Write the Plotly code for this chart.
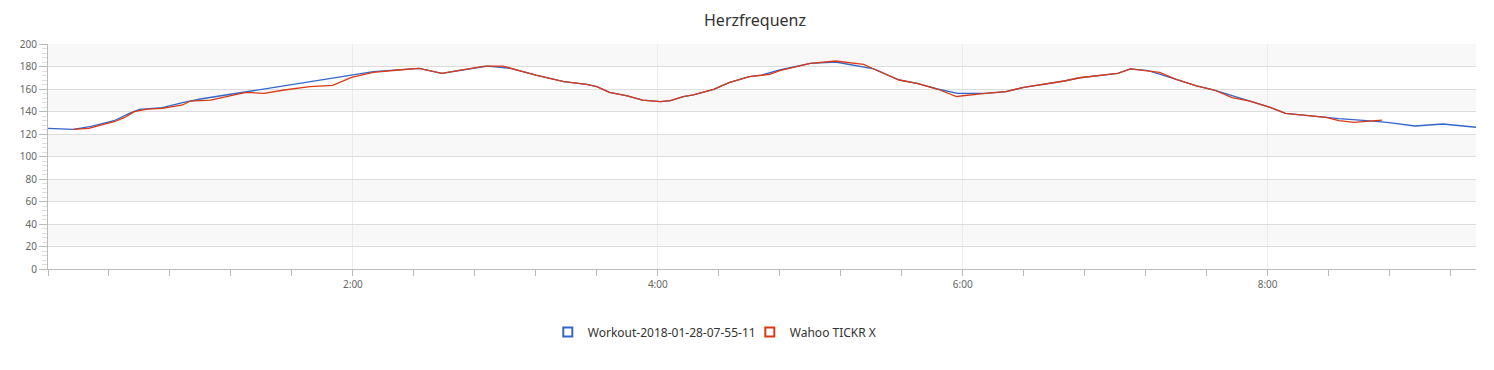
import plotly.graph_objects as go

# ---- data (seconds since start, heart rate bpm) ----
workout_t = [0, 10, 17, 26, 32, 36, 45, 53, 60, 78, 100, 120, 128, 146, 155, 163, 173, 182, 192, 203,
             212, 216, 221, 228, 234, 241, 245, 250, 254, 262, 268, 276, 281, 288, 300, 310, 321, 325,
             335, 342, 350, 358, 369, 377, 384, 392, 400, 406, 414, 421, 426, 433, 444, 452, 459, 466,
             473, 481, 487, 497, 503, 508, 519, 527, 538, 549, 562]
workout_hr = [125, 124.1, 126.8, 131.8, 138.4, 141.9, 143.4, 147.9, 151.1, 157.6, 165.3, 172.4, 175.4,
              178.4, 173.9, 176.9, 180.4, 178.4, 172.4, 166.5, 164.1, 162.1, 157, 153.8, 150.2, 148.7,
              149.6, 153.2, 154.7, 159.7, 165.6, 171, 172.4, 176.9, 182.8, 184, 179.3, 177.8, 168, 165,
              160, 156.1, 156.1, 157.6, 161.5, 164.1, 167.1, 170, 171.8, 173.9, 177.8, 176.3, 168.6,
              162.7, 159.1, 154.1, 149.3, 143.7, 138.4, 136, 134.8, 133.6, 131.8, 130.4, 127.1, 128.9, 126]

tickr_t = [10, 16, 26, 30, 34, 39, 45, 53, 56, 64, 72, 78, 85, 93, 103, 112, 119.5, 123, 128, 138, 146,
           155, 163, 172, 179, 192, 203, 212, 216, 221, 228, 234, 241, 245, 250, 254, 262, 268, 276, 281,
           284, 288, 300, 310, 321, 325, 335, 342, 350, 357.5, 360, 369, 377, 384, 392, 400, 406, 414,
           421, 426, 433, 437.5, 444, 452, 459, 466, 473, 481, 487, 497, 503, 508, 514, 525]
tickr_hr = [124.1, 125, 130.9, 134.5, 139.8, 142.2, 142.8, 145.8, 149.3, 150.2, 154.1, 157, 156.1, 159.1,
            162.1, 163.3, 170.4, 172.2, 174.8, 176.9, 178.4, 173.9, 176.9, 180.4, 180.4, 172.4, 166.5,
            164.1, 162.1, 157, 153.8, 150.2, 148.7, 149.6, 153.2, 154.7, 159.7, 165.6, 171, 172.4, 173,
            176.3, 182.8, 184.9, 181.9, 177.8, 168, 165, 160, 153.2, 154, 156.1, 157.6, 161.5, 164.1,
            167.1, 170, 171.8, 173.9, 177.8, 176.3, 174.8, 168.6, 162.7, 159.1, 152.3, 149.3, 143.7,
            138.4, 136, 134.8, 131.8, 130.4, 132.4]

series_names = ["Workout-2018-01-28-07-55-11", "Wahoo TICKR X"]
colors = ["#3366CC", "#DC3912"]

x_tickvals = [120, 240, 360, 480]
x_ticktext = ["2:00", "4:00", "6:00", "8:00"]
y_tickvals = [0, 20, 40, 60, 80, 100, 120, 140, 160, 180, 200]
x_max = 562
title = "Herzfrequenz"

FONT = "Segoe UI, Noto Sans, Open Sans, sans-serif"

fig = go.Figure()
fig.add_trace(go.Scatter(x=workout_t, y=workout_hr, mode="lines", name=series_names[0],
                         line=dict(color=colors[0], width=1.3), showlegend=False))
fig.add_trace(go.Scatter(x=tickr_t, y=tickr_hr, mode="lines", name=series_names[1],
                         line=dict(color=colors[1], width=1.3), showlegend=False))
# legend entries as open squares
for name, c in zip(series_names, colors):
    fig.add_trace(go.Scatter(x=[None], y=[None], mode="markers", name=name,
                             marker=dict(symbol="square-open", size=9, color=c,
                                         line=dict(width=2, color=c))))

# alternating background bands
shapes = []
for i in range(len(y_tickvals) - 1):
    if i % 2 == 1:
        shapes.append(dict(type="rect", xref="paper", yref="y", x0=0, x1=1,
                           y0=y_tickvals[i], y1=y_tickvals[i + 1],
                           fillcolor="#F8F8F8", line=dict(width=0), layer="below"))

fig.update_layout(
    width=1494, height=370,
    margin=dict(l=40, r=26, t=36, b=109),
    paper_bgcolor="white", plot_bgcolor="white",
    title=dict(text=title, x=0.5, xanchor="center", y=0.9676, yanchor="middle",
               font=dict(family=FONT, size=16, color="#333333")),
    font=dict(family=FONT, color="#666666"),
    shapes=shapes,
    showlegend=True,
    legend=dict(orientation="h", x=0.350, xanchor="left", y=-0.28, yanchor="middle",
                font=dict(family=FONT, size=12, color="#333333"),
                itemwidth=30, entrywidth=157, entrywidthmode="pixels",
                bgcolor="rgba(0,0,0,0)"),
    hovermode=False,
)
fig.update_xaxes(
    range=[0, x_max], tickvals=x_tickvals, ticktext=x_ticktext,
    showgrid=True, gridcolor="#EBEBEB", gridwidth=1, zeroline=False,
    showline=True, linecolor="#BBBBBB", linewidth=1,
    ticks="outside", ticklen=6, tickcolor="#BBBBBB",
    tickfont=dict(size=10, color="#666666"),
    minor=dict(dtick=24, tick0=0, ticks="outside", ticklen=6, tickcolor="#BBBBBB", showgrid=False),
)
fig.update_yaxes(
    range=[0, 200], tickvals=y_tickvals,
    showgrid=True, gridcolor="#DDDDDD", gridwidth=1, zeroline=False,
    showline=True, linecolor="#BBBBBB", linewidth=1,
    ticks="outside", ticklen=8, tickcolor="#BBBBBB",
    tickfont=dict(size=10, color="#666666"),
    minor=dict(dtick=4, tick0=0, ticks="outside", ticklen=5, tickcolor="#DDDDDD", showgrid=False),
)

fig.write_html("out.html")
